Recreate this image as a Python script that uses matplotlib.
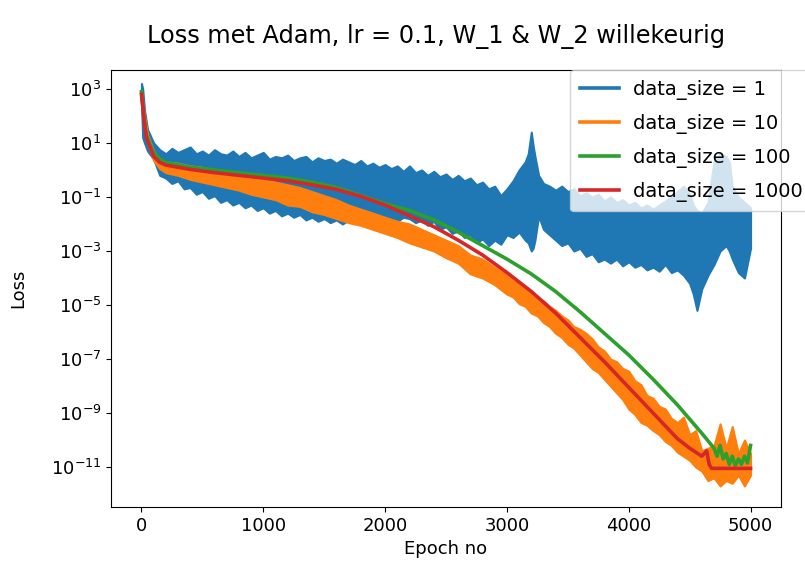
import numpy as np
import matplotlib
matplotlib.use("Agg")
import matplotlib.pyplot as plt
from matplotlib.ticker import NullLocator

# data_size = 1: ruizige band (onder- en bovengrens)
blauw_epoch = [0, 10, 25, 50, 100,
               150, 200, 250, 300, 350, 400, 450, 500, 550, 600, 650, 700, 750, 800,
               850, 900, 950, 1000, 1050, 1100, 1150, 1200, 1250, 1300, 1350, 1400,
               1450, 1500, 1550, 1600, 1650, 1700, 1750, 1800, 1850, 1900, 1950, 2000,
               2050, 2100, 2150, 2200, 2250, 2300, 2350, 2400, 2450, 2500, 2550, 2600,
               2650, 2700, 2750, 2800, 2850, 2900, 2950, 3000,
               3050, 3100, 3150, 3175, 3200, 3215, 3230, 3260, 3300, 3350, 3400, 3450,
               3500, 3550, 3600, 3650, 3700, 3750, 3800, 3850, 3900, 3950, 4000, 4050,
               4100, 4150, 4200, 4250, 4300, 4350, 4400, 4450, 4500, 4530, 4560, 4600,
               4650, 4700, 4750, 4800, 4825, 4850, 4900, 4950, 5000]
blauw_hoog = [3.2, 3.0, 2.2, 1.5, 1.0,
              0.75, 0.6, 0.8, 0.65, 0.75, 0.85, 0.6, 0.7, 0.55, 0.75, 0.6, 0.55, 0.7,
              0.5, 0.65, 0.45, 0.55, 0.65, 0.4, 0.5, 0.45, 0.55, 0.35, 0.45, 0.5, 0.3,
              0.45, 0.35, 0.4, 0.25, 0.4, 0.3, 0.2, 0.35, 0.15, 0.25, 0.1, 0.2, 0.05,
              0.15, -0.05, 0.15, -0.1, 0.0, -0.2, -0.05, -0.25, -0.15, -0.35, -0.2,
              -0.4, -0.3, -0.55, -0.45, -0.7, -0.6, -0.95, -0.7,
              -0.4, 0.0, 0.3, 0.6, 1.4, 0.9, 0.5, -0.2, -0.5, -0.6, -0.75, -0.6, -0.8,
              -0.7, -0.95, -0.85, -1.0, -0.9, -1.15, -1.0, -1.2, -1.1, -1.3, -1.2, -1.4,
              -1.3, -1.45, -1.3, -1.15, -1.0, -0.8, -0.6, -0.9, -1.3, -1.5, -1.6, -1.2,
              0.3, 0.6, 0.5, 0.3, -0.6, -1.0, -1.2, -1.4]
blauw_laag = [2.5, 1.2, 1.0, 0.7, 0.4,
              -0.2, -0.3, -0.5, -0.4, -0.7, -0.65, -0.9, -0.8, -1.05, -0.95, -1.2, -1.1,
              -1.3, -1.2, -1.4, -1.3, -1.5, -1.4, -1.6, -1.5, -1.7, -1.6, -1.75, -1.65,
              -1.85, -1.75, -1.9, -1.8, -1.95, -1.85, -2.0, -1.85, -1.95, -1.8, -1.95,
              -1.85, -2.0, -1.85, -2.05, -1.9, -1.75, -1.8, -1.95, -1.85, -2.05, -1.9,
              -2.2, -2.1, -2.35, -2.25, -2.5, -2.4, -2.7, -2.55, -2.8, -2.6, -2.75, -2.4,
              -2.5, -2.3, -2.6, -2.7, -3.0, -2.9, -2.6, -1.7, -2.2, -2.4, -2.6, -2.8,
              -2.7, -3.0, -2.9, -3.2, -3.1, -3.4, -3.3, -3.45, -3.3, -3.55, -3.4, -3.6,
              -3.5, -3.7, -3.6, -3.75, -3.5, -3.8, -3.7, -3.9, -4.2, -4.6, -5.2, -4.4,
              -3.9, -3.5, -3.0, -2.8, -3.0, -3.3, -3.8, -4.0, -2.9]

# data_size = 10: ruizige band
oranje_epoch = [0, 25, 50, 100, 150, 200, 300, 400, 500, 600, 700, 800, 900, 1000, 1100,
                1200, 1300, 1400, 1500, 1600, 1700, 1800, 1900, 2000, 2100, 2200, 2300,
                2400, 2500, 2600, 2700, 2800, 2900,
                3000, 3050, 3100, 3150, 3200, 3250, 3300, 3350, 3400, 3450, 3500, 3550,
                3600, 3650, 3700, 3750, 3800, 3850, 3900, 3950, 4000, 4050, 4100, 4150,
                4200, 4250, 4300, 4350, 4400, 4450, 4500, 4550, 4600,
                4650, 4700, 4750, 4800, 4850, 4900, 4950, 5000]
oranje_laag = [2.6, 1.6, 1.0, 0.35, 0.05, -0.1, -0.2, -0.35, -0.45, -0.55, -0.65, -0.75,
               -0.9, -1.0, -1.1, -1.3, -1.35, -1.55, -1.65, -1.8, -1.95, -2.05, -2.2,
               -2.35, -2.5, -2.7, -2.85, -3.0, -3.25, -3.45, -3.85, -4.0, -4.25,
               -4.6, -4.7, -4.95, -5.05, -5.3, -5.4, -5.65, -5.8, -6.05, -6.2, -6.45,
               -6.6, -6.85, -7.1, -7.35, -7.5, -7.75, -8.0, -8.25, -8.5, -8.85, -9.05,
               -9.35, -9.45, -9.65, -9.8, -10.05, -10.2, -10.45, -10.6, -10.75, -11.0,
               -11.15,
               -11.5, -11.4, -11.7, -11.5, -11.6, -11.3, -11.7, -11.3]
oranje_hoog = [2.9, 2.0, 1.3, 0.7, 0.4, 0.3, 0.25, 0.15, 0.1, 0.0, -0.05, -0.15, -0.25,
               -0.35, -0.45, -0.55, -0.65, -0.8, -0.95, -1.1, -1.3, -1.45, -1.6, -1.75,
               -1.9, -2.0, -2.2, -2.4, -2.6, -2.8, -3.15, -3.3, -3.6,
               -3.9, -4.1, -4.2, -4.4, -4.5, -4.7, -4.85, -5.05, -5.2, -5.4, -5.55,
               -5.8, -5.9, -6.05, -6.25, -6.55, -6.7, -7.0, -7.1, -7.35, -7.45, -7.8,
               -7.95, -8.35, -8.45, -8.75, -8.85, -9.2, -9.35, -9.15, -9.8, -9.65,
               -10.4,
               -10.3, -10.2, -9.4, -10.3, -9.5, -10.5, -10.0, -10.5]

# data_size = 100
groen_epoch = [0, 10, 20, 40, 70, 100, 150, 200, 400, 600, 800, 1000, 1200, 1400, 1600,
               1800, 2000, 2200, 2400, 2600, 2800, 3000, 3200, 3400, 3600, 3800, 4000,
               4200, 4400, 4600, 4700, 4725, 4750, 4775, 4800, 4825, 4850, 4875, 4900,
               4925, 4950, 4975, 5000]
groen_log10 = [2.9, 2.4, 1.95, 1.3, 0.95, 0.65, 0.4, 0.28, 0.1, 0.0, -0.1, -0.2, -0.3,
               -0.45, -0.65, -0.95, -1.25, -1.5, -1.85, -2.3, -2.8, -3.3, -3.85, -4.5,
               -5.25, -6.05, -6.85, -7.75, -8.7, -9.75, -10.3, -10.6, -10.2, -10.7, -10.5,
               -10.9, -10.6, -10.95, -10.7, -10.9, -10.6, -10.85, -10.2]

# data_size = 1000
rood_epoch = [0, 10, 20, 40, 70, 100, 150, 200, 400, 600, 800, 1000, 1200, 1400, 1600,
              1800, 2000, 2200, 2400, 2600, 2800, 3000, 3200, 3400, 3600, 3800, 4000,
              4200, 4400, 4500, 4600, 4640, 4660, 4680, 5000]
rood_log10 = [2.8, 2.4, 1.9, 1.2, 0.85, 0.5, 0.28, 0.18, 0.02, -0.1, -0.2, -0.3, -0.4,
              -0.55, -0.72, -0.98, -1.3, -1.7, -2.1, -2.6, -3.15, -3.8, -4.5, -5.3, -6.2,
              -7.1, -8.05, -9.0, -9.95, -10.3, -10.6, -10.4, -10.9, -11.05, -11.05]

labels = ["data_size = 1", "data_size = 10", "data_size = 100", "data_size = 1000"]
kleuren = ["#1f77b4", "#ff7f0e", "#2ca02c", "#d62728"]

fig = plt.figure(figsize=(8.05, 5.66), dpi=100)
ax = fig.add_axes([0.1379, 0.1042, 0.8323, 0.7721])

ax.fill_between(blauw_epoch, np.power(10.0, blauw_laag), np.power(10.0, blauw_hoog),
                color=kleuren[0], lw=1.5)
ax.fill_between(oranje_epoch, np.power(10.0, oranje_laag), np.power(10.0, oranje_hoog),
                color=kleuren[1], lw=1.5)
ax.plot(groen_epoch, np.power(10.0, groen_log10), color=kleuren[2], lw=2.6)
ax.plot(rood_epoch, np.power(10.0, rood_log10), color=kleuren[3], lw=2.6)

# legenda met lege lijnen
for lab, kl in zip(labels, kleuren):
    ax.plot([], [], color=kl, lw=2.6, label=lab)

ax.set_yscale("log")
ax.set_xlim(-250, 5250)
ax.set_ylim(10**-12.48, 10**3.7)
ax.set_yticks([10.0**k for k in range(-11, 4, 2)])
ax.yaxis.set_minor_locator(NullLocator())
ax.set_xticks([0, 1000, 2000, 3000, 4000, 5000])
ax.tick_params(labelsize=13)

ax.set_xlabel("Epoch no", fontsize=13)
ax.set_ylabel("Loss", fontsize=13, labelpad=17)

ax.legend(loc="upper left", bbox_to_anchor=(0.685, 1.0), borderaxespad=0, fontsize=14,
          handletextpad=0.75, labelspacing=0.72, borderpad=0.5)

fig.text(436 / 805, 1 - 43 / 566, "Loss met Adam, lr = 0.1, W_1 & W_2 willekeurig",
         ha="center", va="baseline", fontsize=17.3)

fig.savefig("out.png", dpi=100)
